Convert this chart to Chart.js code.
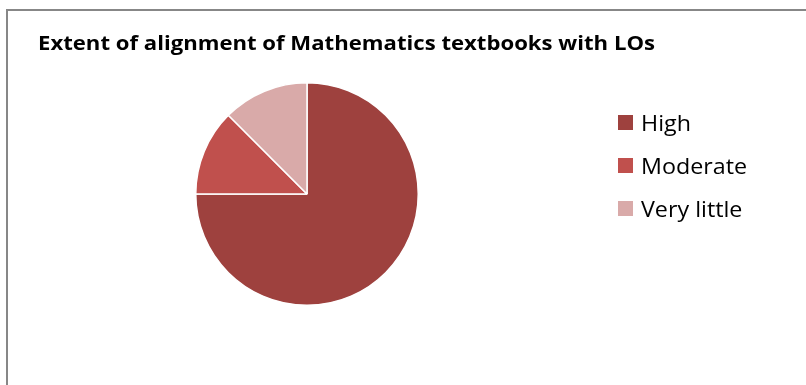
<!DOCTYPE html>
<html>
<head>
<meta charset="utf-8">
<script src="https://cdn.jsdelivr.net/npm/chart.js@4.4.1/dist/chart.umd.min.js"></script>
<style>
    html, body { margin: 0; padding: 0; background: #fff; overflow: hidden; }
    #wrap { position: relative; width: 806px; height: 385px; }
    #frame {
        position: absolute; left: 6px; top: 9px; width: 900px; height: 500px;
        border: 2px solid #878787; box-sizing: border-box;
    }
    #alignChart { position: absolute; left: 0; top: 0; }
</style>
</head>
<body>
<div id="wrap">
    <div id="frame"></div>
    <canvas id="alignChart" width="806" height="385"></canvas>
</div>
<script>
// Extent of alignment (share of textbooks)
const chartTitle = 'Extent of alignment of Mathematics textbooks with LOs';
const categories = ['High', 'Moderate', 'Very little'];
const shares = [75, 12.5, 12.5];
const sliceColors = ['#9E413E', '#C0504D', '#D9AAA9'];

// draws text stretched sideways to a given width
function fitText(ctx, text, x, y, width) {
    const w = ctx.measureText(text).width;
    ctx.save();
    ctx.translate(x, y);
    ctx.scale(width / w, 1);
    ctx.fillText(text, 0, 0);
    ctx.restore();
}

// Title and legend drawn on the canvas, Excel style
const textPlugin = {
    id: 'textPlugin',
    afterDraw(chart) {
        const ctx = chart.ctx;
        ctx.save();
        ctx.fillStyle = '#000';
        ctx.textBaseline = 'alphabetic';
        ctx.textAlign = 'left';
        ctx.font = 'bold 19px "Open Sans"';
        fitText(ctx, chartTitle, 38, 50, 617);

        const labels = chart.data.labels;
        const colors = chart.data.datasets[0].backgroundColor;
        ctx.font = '21.5px "Open Sans"';
        const sx = 106 / ctx.measureText('Moderate').width;
        labels.forEach(function (label, i) {
            const y = 131 + i * 43;
            ctx.fillStyle = colors[i];
            ctx.fillRect(618, y - 16, 15, 15);
            ctx.fillStyle = '#000';
            fitText(ctx, label, 641, y, ctx.measureText(label).width * sx);
        });
        ctx.restore();
    }
};

const ctxPie = document.getElementById('alignChart').getContext('2d');
new Chart(ctxPie, {
    type: 'pie',
    data: {
        labels: categories,
        datasets: [{
            data: shares,
            backgroundColor: sliceColors,
            borderColor: '#ffffff',
            borderWidth: 1.5
        }]
    },
    options: {
        responsive: false,
        animation: false,
        layout: {
            padding: { left: 195, top: 82, right: 387, bottom: 79 }
        },
        plugins: {
            legend: { display: false },
            title: { display: false },
            tooltip: { enabled: false }
        }
    },
    plugins: [textPlugin]
});
</script>
</body>
</html>
